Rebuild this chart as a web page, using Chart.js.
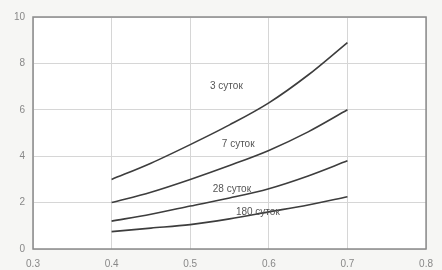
<!DOCTYPE html>
<html>
<head>
<meta charset="utf-8">
<script src="https://cdn.jsdelivr.net/npm/chart.js@4.4.0/dist/chart.umd.min.js"></script>
<style>
  html, body { margin: 0; padding: 0; background: #f6f6f4; }
  #wrap { width: 442px; height: 270px; }
</style>
</head>
<body>
<div id="wrap"><canvas id="chart"></canvas></div>
<script>
// x values (ratio)
var xValues = [0.4, 0.45, 0.5, 0.55, 0.6, 0.65, 0.7];
var days3 = [3.0, 3.7, 4.5, 5.35, 6.3, 7.5, 8.9];
var days7 = [2.0, 2.45, 3.0, 3.6, 4.25, 5.05, 6.0];
var days28 = [1.2, 1.5, 1.85, 2.2, 2.6, 3.15, 3.8];
var days180 = [0.75, 0.9, 1.05, 1.3, 1.6, 1.9, 2.25];

var curveNames = ['3 суток', '7 суток', '28 суток', '180 суток'];
// where each curve label sits (data coords)
var labelX = [0.546, 0.561, 0.553, 0.586];
var labelY = [7.0, 4.53, 2.58, 1.6];

var xTicks = [0.3, 0.4, 0.5, 0.6, 0.7, 0.8];
var yTicks = [0, 2, 4, 6, 8, 10];

function toPoints(ys) {
    return xValues.map((x, i) => ({ x: x, y: ys[i] }));
}

function makeDataset(name, ys) {
    return {
        label: name,
        data: toPoints(ys),
        borderColor: '#3d3d3d',
        borderWidth: 1.6,
        pointRadius: 0,
        fill: false,
        cubicInterpolationMode: 'monotone'
    };
}

var curveLabels = {
    id: 'curveLabels',
    beforeDraw(chart) {
        let ctx = chart.ctx;
        let a = chart.chartArea;
        ctx.save();
        ctx.fillStyle = '#ffffff';
        ctx.fillRect(a.left, a.top, a.right - a.left, a.bottom - a.top);
        ctx.restore();
    },
    afterDatasetsDraw(chart) {
        let ctx = chart.ctx;
        let xs = chart.scales.x;
        let ys = chart.scales.y;
        let a = chart.chartArea;
        ctx.save();
        ctx.strokeStyle = '#8a8a8a';
        ctx.lineWidth = 1.5;
        ctx.strokeRect(a.left, a.top, a.right - a.left, a.bottom - a.top);
        ctx.fillStyle = '#555';
        ctx.font = '10px "Liberation Sans", Arial, sans-serif';
        ctx.textAlign = 'center';
        ctx.textBaseline = 'middle';
        curveNames.forEach((name, i) => {
            ctx.fillText(name, xs.getPixelForValue(labelX[i]), ys.getPixelForValue(labelY[i]));
        });
        ctx.restore();
    }
};

var myChart = new Chart(document.getElementById('chart'), {
    type: 'line',
    data: {
        datasets: [
            makeDataset(curveNames[0], days3),
            makeDataset(curveNames[1], days7),
            makeDataset(curveNames[2], days28),
            makeDataset(curveNames[3], days180)
        ]
    },
    options: {
        responsive: true,
        maintainAspectRatio: false,
        animation: false,
        layout: { padding: { top: 17, right: 10, left: 0, bottom: 0 } },
        plugins: {
            legend: { display: false },
            tooltip: { enabled: false }
        },
        scales: {
            x: {
                type: 'linear',
                min: 0.3,
                max: 0.8,
                afterBuildTicks: s => { s.ticks = xTicks.map(v => ({ value: v })); },
                afterFit: s => { s.height = 21; },
                grid: { color: '#d6d6d6', lineWidth: 1, drawTicks: false },
                border: { display: false },
                ticks: {
                    color: '#888',
                    font: { size: 10, family: '"Liberation Sans", Arial, sans-serif' },
                    padding: 9,
                    maxRotation: 0,
                    callback: v => v.toFixed(1)
                }
            },
            y: {
                min: 0,
                max: 10,
                afterBuildTicks: s => { s.ticks = yTicks.map(v => ({ value: v })); },
                afterFit: s => { s.width = 33; },
                grid: { color: '#d6d6d6', lineWidth: 1, drawTicks: false },
                border: { display: false },
                ticks: {
                    color: '#888',
                    font: { size: 10, family: '"Liberation Sans", Arial, sans-serif' },
                    padding: 8
                }
            }
        }
    },
    plugins: [curveLabels]
});
</script>
</body>
</html>
